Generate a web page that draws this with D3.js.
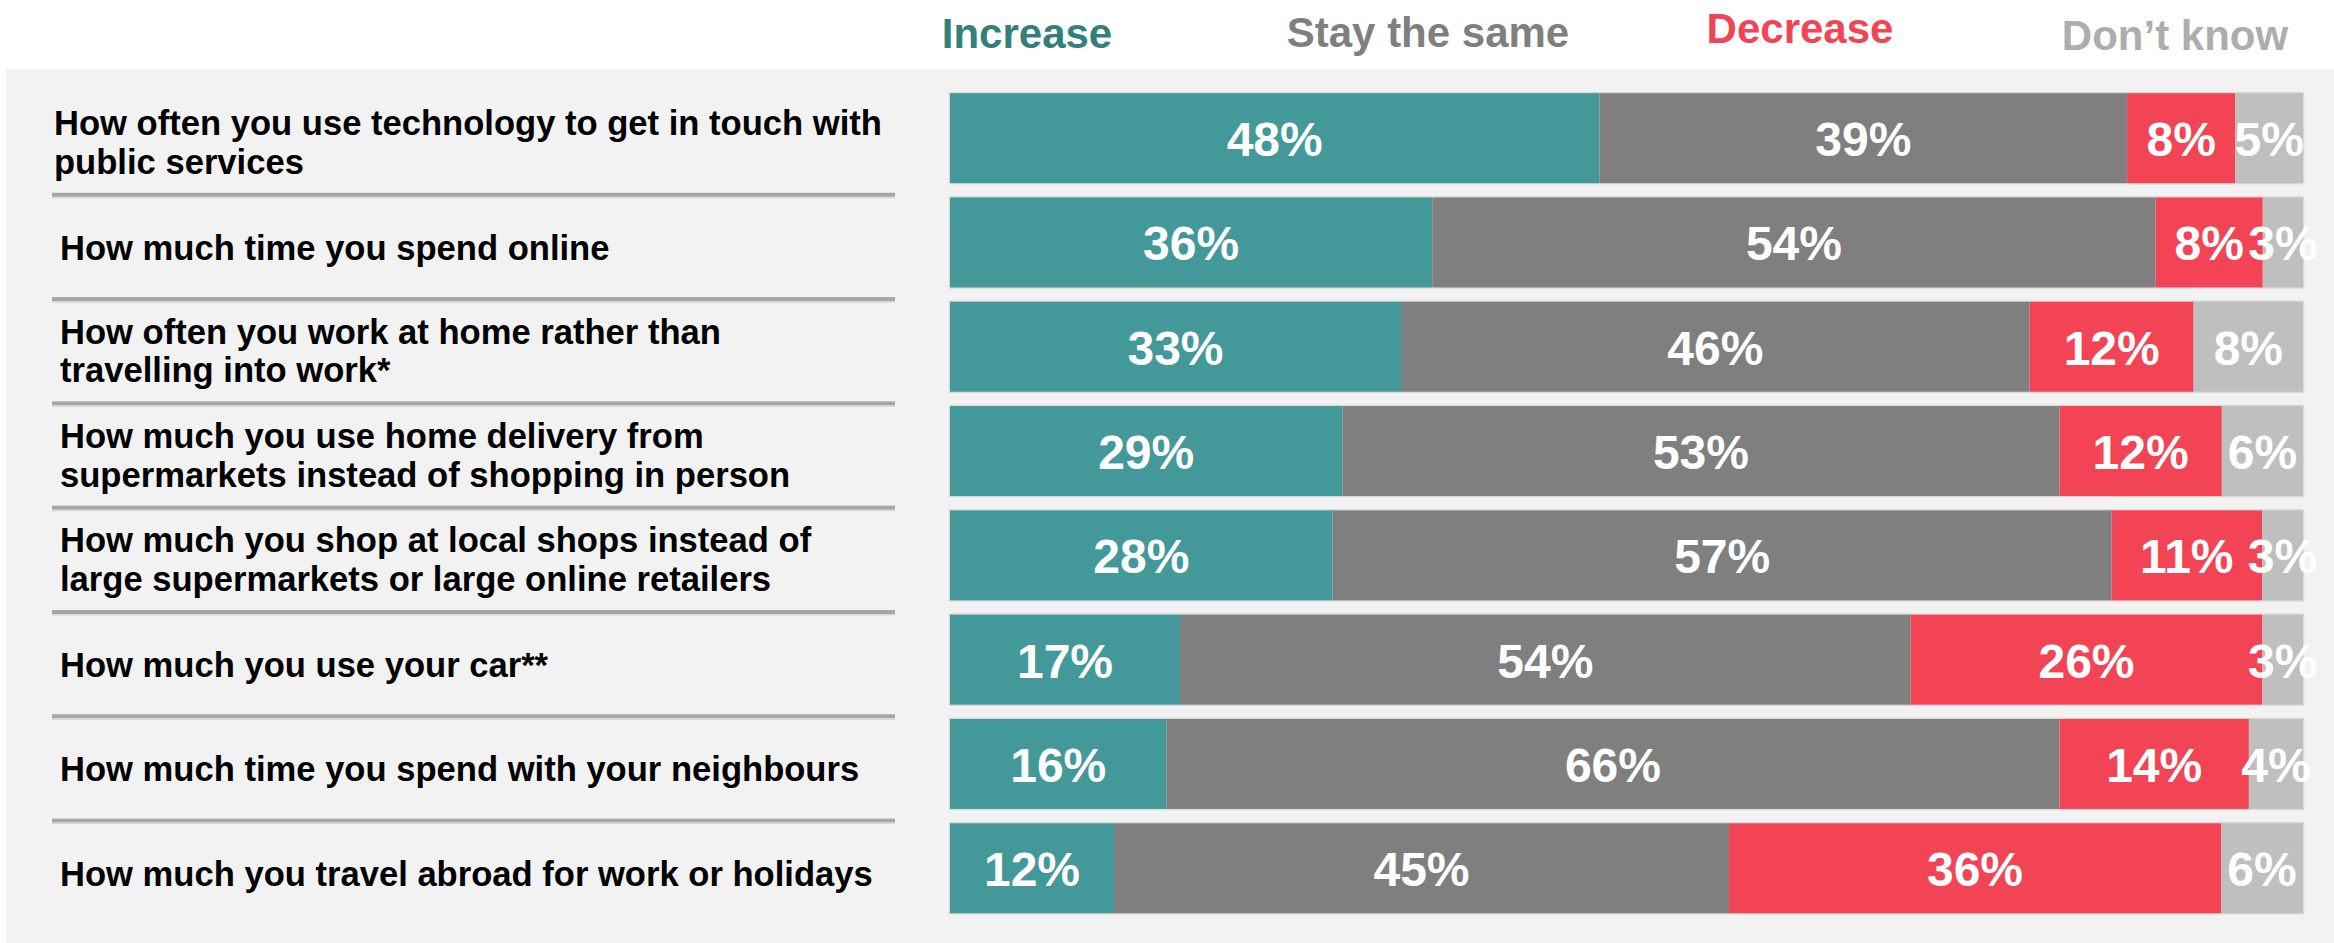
<!DOCTYPE html>
<html>
<head>
<meta charset="utf-8">
<script src="https://cdn.jsdelivr.net/npm/d3@7"></script>
<style>
  html, body { margin: 0; padding: 0; background: #ffffff; }
  svg { display: block; }
  text { font-family: "Liberation Sans", Arial, Helvetica, sans-serif; font-weight: bold; }
</style>
</head>
<body>
<svg id="chart" width="2334" height="943"></svg>
<script>
// ---- data ----
const categories = [
  ["How often you use technology to get in touch with", "public services"],
  ["How much time you spend online"],
  ["How often you work at home rather than", "travelling into work*"],
  ["How much you use home delivery from", "supermarkets instead of shopping in person"],
  ["How much you shop at local shops instead of", "large supermarkets or large online retailers"],
  ["How much you use your car**"],
  ["How much time you spend with your neighbours"],
  ["How much you travel abroad for work or holidays"]
];
const seriesNames = ["Increase", "Stay the same", "Decrease", "Don\u2019t know"];
const increase   = [48, 36, 33, 29, 28, 17, 16, 12];
const staySame   = [39, 54, 46, 53, 57, 54, 66, 45];
const decrease   = [ 8,  8, 12, 12, 11, 26, 14, 36];
const dontKnow   = [ 5,  3,  8,  6,  3,  3,  4,  6];

const barColors    = ["#43989A", "#7F7F7F", "#F24455", "#BFBFBF"];
const legendColors = ["#327F7B", "#7F7F7F", "#F24455", "#ADADAD"];

// ---- build table ----
const keys = ["inc", "same", "dec", "dk"];
const table = categories.map((c, i) => ({
  idx: i, inc: increase[i], same: staySame[i], dec: decrease[i], dk: dontKnow[i]
}));
const stacked = d3.stack().keys(keys).offset(d3.stackOffsetExpand)(table);

const svg = d3.select("#chart");
const W = 2334, H = 943;

// panel background
svg.append("rect").attr("x", 6).attr("y", 69).attr("width", W - 6).attr("height", H - 69)
  .attr("fill", "#F2F2F2");

// scales
const x = d3.scaleLinear().domain([0, 1]).range([950, 2303]);
const y = d3.scaleBand().domain(d3.range(categories.length))
  .range([86, 920.4]).paddingInner(0.137).paddingOuter(0.0685);

// bar outline (faint)
svg.append("g").selectAll("rect").data(table).join("rect")
  .attr("x", x(0) - 0.5).attr("y", d => y(d.idx) - 0.5)
  .attr("width", x(1) - x(0) + 1).attr("height", y.bandwidth() + 1)
  .attr("fill", "none").attr("stroke", "#D9D9D9").attr("stroke-width", 1.5);

// bars
const layers = svg.append("g").selectAll("g").data(stacked).join("g")
  .attr("fill", (d, i) => barColors[i]);
layers.selectAll("rect").data(d => d).join("rect")
  .attr("x", d => x(d[0]))
  .attr("y", d => y(d.data.idx))
  .attr("width", d => x(d[1]) - x(d[0]))
  .attr("height", y.bandwidth());

// value labels
const vals = [increase, staySame, decrease, dontKnow];
const lbl = svg.append("g");
stacked.forEach((layer, si) => {
  lbl.selectAll(null).data(layer).join("text")
    .attr("x", d => (x(d[0]) + x(d[1])) / 2)
    .attr("y", d => y(d.data.idx) + y.bandwidth() / 2 + 18)
    .attr("text-anchor", "middle")
    .attr("font-size", 48)
    .attr("fill", "#FFFFFF")
    .text(d => vals[si][d.data.idx] + "%");
});

// category labels
const catG = svg.append("g");
categories.forEach((lines, i) => {
  const cy = y(i) + y.bandwidth() / 2;
  const lx = i === 0 ? 54 : 60;
  const t = catG.append("text")
    .attr("x", lx)
    .attr("font-size", 34.6)
    .attr("fill", "#000000");
  if (lines.length === 1) {
    t.append("tspan").attr("x", lx).attr("y", cy + 17.5).text(lines[0]);
  } else {
    lines.forEach((ln, k) => {
      t.append("tspan").attr("x", lx).attr("y", cy - 3 + k * 38.5).text(ln);
    });
  }
});

// separators
const sepG = svg.append("g");
d3.range(categories.length - 1).forEach(i => {
  const sy = y(i) + y.bandwidth() + (y.step() - y.bandwidth()) / 2 + 4.5;
  sepG.append("rect").attr("x", 52).attr("y", sy - 2).attr("width", 843).attr("height", 4)
    .attr("fill", "#A6A6A6");
  sepG.append("rect").attr("x", 52).attr("y", sy + 2).attr("width", 843).attr("height", 1.5)
    .attr("fill", "#D6D6D6");
});

// legend
const legendX = [1027, 1428, 1800, 2175];
const legendY = [48, 47, 43, 50];
svg.append("g").selectAll("text").data(seriesNames).join("text")
  .attr("x", (d, i) => legendX[i])
  .attr("y", (d, i) => legendY[i])
  .attr("text-anchor", "middle")
  .attr("font-size", 42)
  .attr("fill", (d, i) => legendColors[i])
  .text(d => d);
</script>
</body>
</html>
